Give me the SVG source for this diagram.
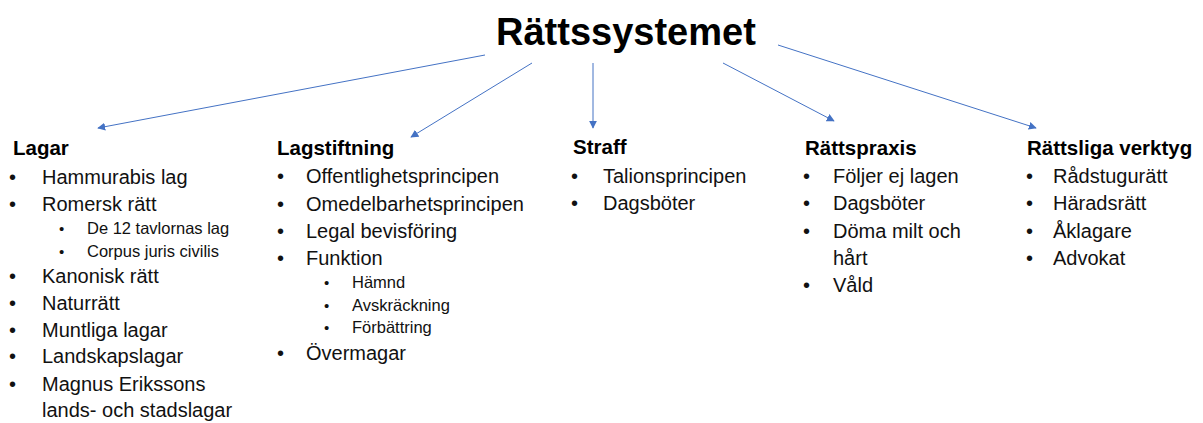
<svg xmlns="http://www.w3.org/2000/svg" width="1203" height="423" viewBox="0 0 1203 423">
<style>
text{font-family:"Liberation Sans",Arial,sans-serif;fill:#111}
.title{font-size:38px;font-weight:bold;fill:#000}
.h{font-size:20.5px;font-weight:bold;fill:#000}
.i{font-size:20px}
.s{font-size:16.5px}
.b{font-size:20px}
.sb{font-size:15px}
.c{stroke:#4472C4;stroke-width:1;fill:none;marker-end:url(#ah)}
</style>
<defs>
<marker id="ah" viewBox="0 0 10 10" refX="9" refY="5" markerWidth="8" markerHeight="8" markerUnits="userSpaceOnUse" orient="auto">
<path d="M0,0 L10,5 L0,10 z" fill="#4472C4"/>
</marker>
</defs>
<rect width="1203" height="423" fill="#fff"/>
<g id="connectors">
<line class="c" x1="485" y1="55" x2="98" y2="128"/>
<line class="c" x1="532" y1="63" x2="411" y2="137"/>
<line class="c" x1="593" y1="63" x2="593" y2="128"/>
<line class="c" x1="723" y1="63" x2="834" y2="121"/>
<line class="c" x1="778" y1="45" x2="1036" y2="128"/>
</g>
<g id="root">
<text class="title" x="496" y="45">Rättssystemet</text>
</g>
<g id="lagar">
<text class="h" x="13" y="155">Lagar</text>
<text class="b" x="9" y="184">•</text><text class="i" x="42" y="184">Hammurabis lag</text>
<text class="b" x="9" y="211">•</text><text class="i" x="42" y="211">Romersk rätt</text>
<text class="sb" x="59" y="234">•</text><text class="s" x="87" y="234">De 12 tavlornas lag</text>
<text class="sb" x="59" y="257">•</text><text class="s" x="87" y="257">Corpus juris civilis</text>
<text class="b" x="9" y="283">•</text><text class="i" x="42" y="283">Kanonisk rätt</text>
<text class="b" x="9" y="310">•</text><text class="i" x="42" y="310">Naturrätt</text>
<text class="b" x="9" y="337">•</text><text class="i" x="42" y="337">Muntliga lagar</text>
<text class="b" x="9" y="363">•</text><text class="i" x="42" y="363">Landskapslagar</text>
<text class="b" x="9" y="391">•</text><text class="i" x="42" y="391">Magnus Erikssons</text>
<text class="i" x="42" y="417">lands- och stadslagar</text>
</g>
<g id="lagstiftning">
<text class="h" x="277" y="155">Lagstiftning</text>
<text class="b" x="277" y="183">•</text><text class="i" x="306" y="183">Offentlighetsprincipen</text>
<text class="b" x="277" y="211">•</text><text class="i" x="306" y="211">Omedelbarhetsprincipen</text>
<text class="b" x="277" y="238">•</text><text class="i" x="306" y="238">Legal bevisföring</text>
<text class="b" x="277" y="265">•</text><text class="i" x="306" y="265">Funktion</text>
<text class="sb" x="324" y="288">•</text><text class="s" x="352" y="288">Hämnd</text>
<text class="sb" x="324" y="311">•</text><text class="s" x="352" y="311">Avskräckning</text>
<text class="sb" x="324" y="333">•</text><text class="s" x="352" y="333">Förbättring</text>
<text class="b" x="277" y="360">•</text><text class="i" x="306" y="360">Övermagar</text>
</g>
<g id="straff">
<text class="h" x="573" y="154">Straff</text>
<text class="b" x="571" y="183">•</text><text class="i" x="603" y="183">Talionsprincipen</text>
<text class="b" x="571" y="210">•</text><text class="i" x="603" y="210">Dagsböter</text>
</g>
<g id="rattspraxis">
<text class="h" x="805" y="155">Rättspraxis</text>
<text class="b" x="803" y="183">•</text><text class="i" x="833" y="183">Följer ej lagen</text>
<text class="b" x="803" y="210">•</text><text class="i" x="833" y="210">Dagsböter</text>
<text class="b" x="803" y="238">•</text><text class="i" x="833" y="238">Döma milt och</text>
<text class="i" x="833" y="265">hårt</text>
<text class="b" x="803" y="292">•</text><text class="i" x="833" y="292">Våld</text>
</g>
<g id="rattsliga_verktyg">
<text class="h" x="1027" y="155">Rättsliga verktyg</text>
<text class="b" x="1026" y="183">•</text><text class="i" x="1053" y="183">Rådstugurätt</text>
<text class="b" x="1026" y="210">•</text><text class="i" x="1053" y="210">Häradsrätt</text>
<text class="b" x="1026" y="238">•</text><text class="i" x="1053" y="238">Åklagare</text>
<text class="b" x="1026" y="265">•</text><text class="i" x="1053" y="265">Advokat</text>
</g>
</svg>
